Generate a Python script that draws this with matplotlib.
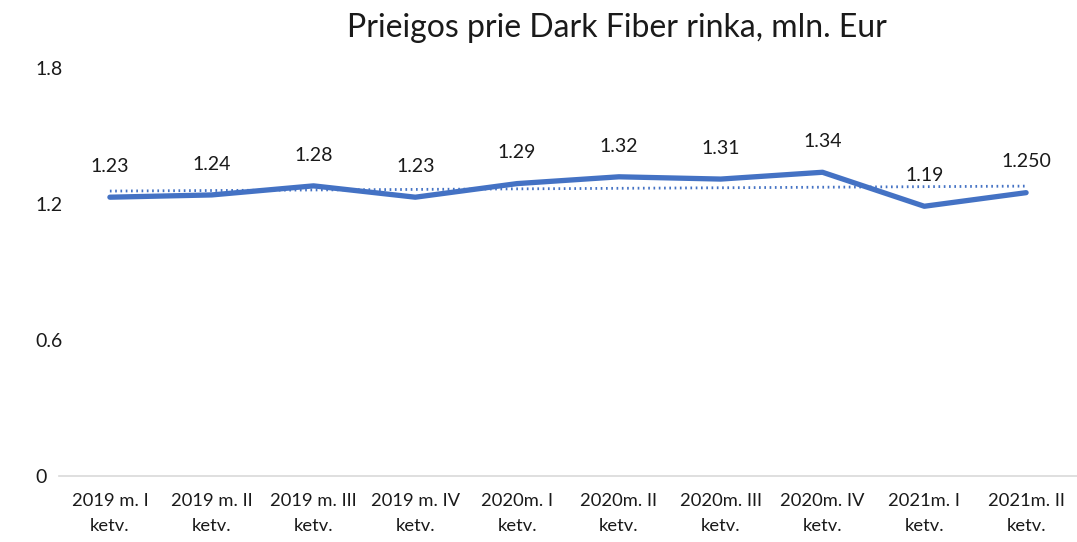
import matplotlib
matplotlib.use("Agg")
import matplotlib.pyplot as plt
import numpy as np

plt.rcParams['font.family'] = ['Lato', 'DejaVu Sans']

categories = ["2019 m. I\nketv.", "2019 m. II\nketv.", "2019 m. III\nketv.", "2019 m. IV\nketv.",
              "2020m. I\nketv.", "2020m. II\nketv.", "2020m. III\nketv.", "2020m. IV\nketv.",
              "2021m. I\nketv.", "2021m. II\nketv."]
values = [1.23, 1.24, 1.28, 1.23, 1.29, 1.32, 1.31, 1.34, 1.19, 1.25]
value_labels = ["1.23", "1.24", "1.28", "1.23", "1.29", "1.32", "1.31", "1.34", "1.19", "1.250"]
yticks = [0, 0.6, 1.2, 1.8]
ytick_labels = ["0", "0.6", "1.2", "1.8"]
title = "Prieigos prie Dark Fiber rinka, mln. Eur"

blue = "#4472C4"

fig = plt.figure(figsize=(10.77, 5.42), dpi=100)
ax = fig.add_axes([59/1077, 1-476/542, 1-59/1077, (476-68)/542])

x = np.arange(len(values))
ax.plot(x, values, color=blue, lw=3.8, solid_capstyle='round', solid_joinstyle='round', zorder=3)

coef = np.polyfit(x, values, 1)
trend = np.polyval(coef, x)
ax.plot(x, trend, color=blue, lw=2.0, linestyle=(0, (0.6, 1.3)), zorder=2)

for xi, v, lab in zip(x, values, value_labels):
    ax.annotate(lab, (xi, v), xytext=(0, 16), textcoords='offset points',
                ha='center', va='bottom', fontsize=14, color='#1a1a1a')

ax.set_xlim(-0.5, len(values) - 0.5)
ax.set_ylim(0, 1.8)
ax.set_yticks(yticks)
ax.set_yticklabels(ytick_labels, fontsize=14, color='#1a1a1a', ha='left')
ax.set_xticks(x)
ax.set_xticklabels(categories, fontsize=13.2, color='#1a1a1a', linespacing=1.7)
ax.tick_params(axis='both', length=0)
ax.tick_params(axis='y', pad=17)
ax.tick_params(axis='x', pad=12.5)

for s in ['top', 'right', 'left']:
    ax.spines[s].set_visible(False)
ax.spines['bottom'].set_color('#d9d9d9')
ax.spines['bottom'].set_linewidth(1.2)

fig.text(617/1077, 1-28/542, title, ha='center', va='center', fontsize=23, color='#1a1a1a')

fig.savefig("out.png", dpi=100)
